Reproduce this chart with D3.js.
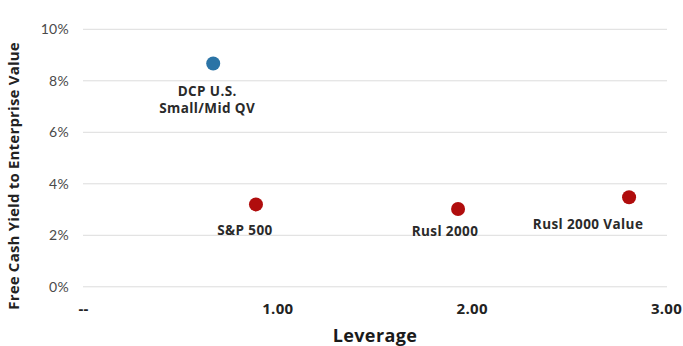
<!DOCTYPE html>
<html><head><meta charset="utf-8">
<script src="https://cdn.jsdelivr.net/npm/d3@7"></script>
<style>body{margin:0;background:#fff;}svg{display:block;}</style>
</head><body>
<svg id="c" width="683" height="346"></svg>
<script>
const names = ["DCP U.S.\nSmall/Mid QV", "S&P 500", "Rusl 2000", "Rusl 2000 Value"];
const leverage = [0.67, 0.89, 1.93, 2.81];
const fcfYield = [8.67, 3.2, 3.02, 3.48];
const groups = ["fund", "index", "index", "index"];
const xTicks = [0, 1, 2, 3];
const xTickLabels = ["--", "1.00", "2.00", "3.00"];
const yTicks = [0, 2, 4, 6, 8, 10];

const svg = d3.select("#c");
const font = "Lato, 'Open Sans', sans-serif";
const bold = "'Open Sans', Lato, sans-serif";
const x = d3.scaleLinear().domain([0, 3]).range([83, 666]);
const y = d3.scaleLinear().domain([0, 10]).range([286.8, 29.3]);
const color = d3.scaleOrdinal().domain(["fund", "index"]).range(["#2b74a6", "#b00d0d"]);

// gridlines
svg.append("g").selectAll("line").data(yTicks).join("line")
  .attr("x1", 83).attr("x2", 667)
  .attr("y1", d => y(d)).attr("y2", d => y(d))
  .attr("stroke", "#dcdcdc").attr("stroke-width", 1);

// y axis
const yAxis = svg.append("g").attr("transform", "translate(73,0)")
  .call(d3.axisLeft(y).tickValues(yTicks).tickFormat(d => d + "%").tickSize(0).tickPadding(4));
yAxis.select(".domain").remove();
yAxis.selectAll("text").attr("font-family", font).attr("font-size", 14).attr("fill", "#4a4a4a")
  .attr("letter-spacing", 0.3);

// x axis
const xAxis = svg.append("g").attr("transform", "translate(0,303)")
  .call(d3.axisBottom(x).tickValues(xTicks).tickFormat((d, i) => xTickLabels[i]).tickSize(0).tickPadding(0));
xAxis.select(".domain").remove();
xAxis.selectAll("text").attr("font-family", bold).attr("font-size", 15).attr("font-weight", 700).attr("fill", "#222")
  .attr("letter-spacing", 0.3);

// titles
svg.append("text").attr("x", 375).attr("y", 342).attr("text-anchor", "middle")
  .attr("font-family", bold).attr("font-size", 18).attr("font-weight", 700).attr("fill", "#1a1a1a")
  .attr("letter-spacing", 0.4).text("Leverage");
svg.append("text").attr("transform", "translate(19,176) rotate(-90)").attr("text-anchor", "middle")
  .attr("font-family", bold).attr("font-size", 15).attr("font-weight", 700).attr("fill", "#222")
  .attr("letter-spacing", 0.2).text("Free Cash Yield to Enterprise Value");

// points
const data = names.map((n, i) => ({name: n, x: leverage[i], y: fcfYield[i], g: groups[i]}));
svg.append("g").selectAll("circle").data(data).join("circle")
  .attr("cx", d => x(d.x)).attr("cy", d => y(d.y)).attr("r", 7)
  .attr("fill", d => color(d.g));

// labels (offsets relative to each point)
const offs = [[-6, 32], [-11, 31], [-13, 27], [-41, 32]];
const lab = svg.append("g").selectAll("text").data(data).join("text")
  .attr("x", (d, i) => x(d.x) + offs[i][0]).attr("y", (d, i) => y(d.y) + offs[i][1])
  .attr("text-anchor", "middle").attr("font-family", bold).attr("font-size", 13.5)
  .attr("font-weight", 700).attr("fill", "#2a2a2a").attr("letter-spacing", 0.4);
lab.each(function(d, i) {
  const t = d3.select(this);
  d.name.split("\n").forEach((s, k) => {
    t.append("tspan").attr("x", x(d.x) + offs[i][0]).attr("dy", k === 0 ? 0 : 17).text(s);
  });
});
</script>
</body></html>
